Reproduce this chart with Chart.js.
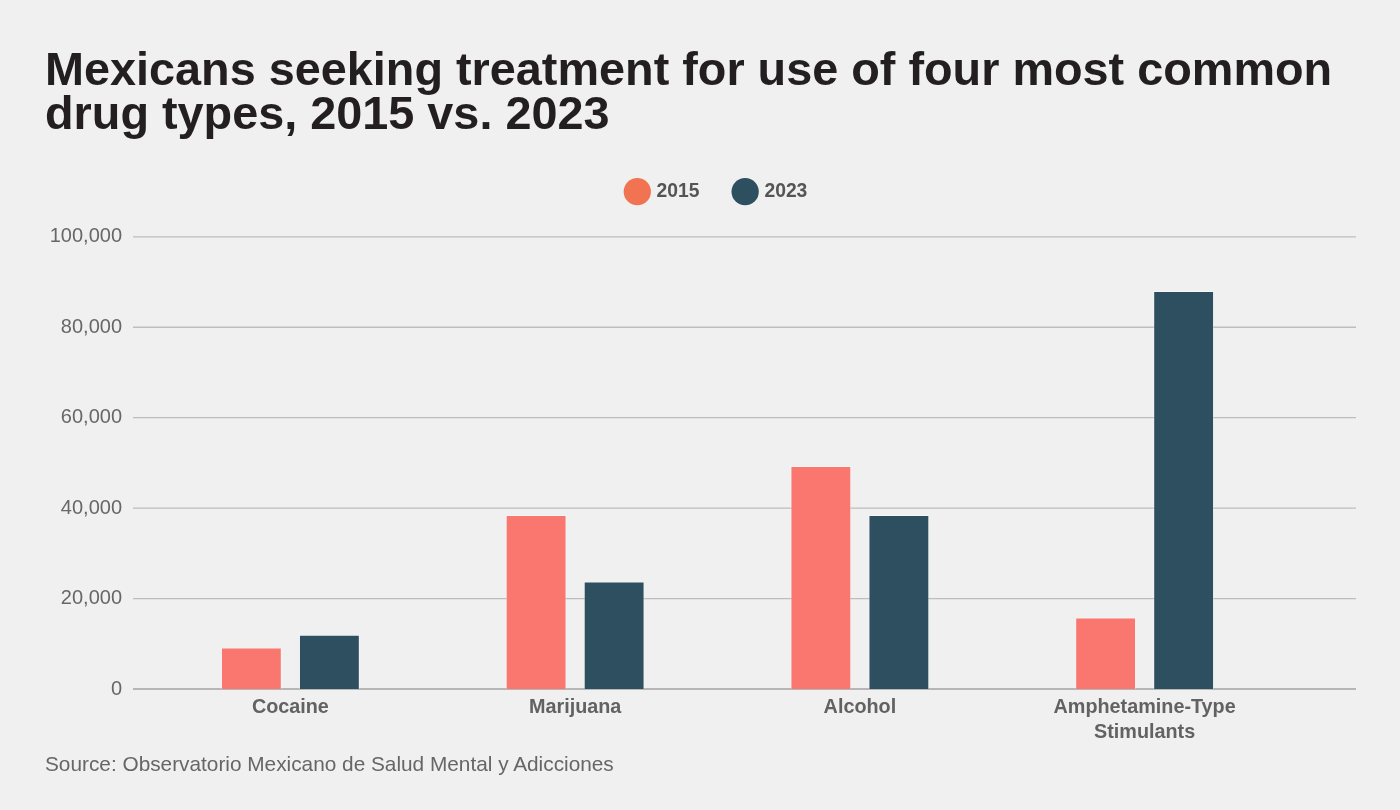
<!DOCTYPE html>
<html>
<head>
<meta charset="utf-8">
<script src="https://cdn.jsdelivr.net/npm/chart.js@4/dist/chart.umd.min.js"></script>
<style>
  html, body { margin: 0; padding: 0; background: #f0f0f0; width: 1400px; height: 810px; overflow: hidden; }
  #title { position: absolute; left: 45px; top: 47px; margin: 0; font-family: "Liberation Sans", Arial, sans-serif; font-weight: bold; font-size: 46.8px; line-height: 44px; letter-spacing: 0px; color: #231f20; z-index: 2; }
  #source { position: absolute; left: 45px; top: 752px; margin: 0; font-family: "Liberation Sans", Arial, sans-serif; font-size: 20.8px; line-height: 24px; color: #666; z-index: 2; }
  #wrap { position: absolute; left: 0; top: 0; width: 1400px; height: 810px; z-index: 1; }
</style>
</head>
<body>
<h1 id="title">Mexicans seeking treatment for use of four most common<br>drug types, 2015 vs. 2023</h1>
<div id="wrap"><canvas id="c" width="1400" height="810"></canvas></div>
<p id="source">Source: Observatorio Mexicano de Salud Mental y Adicciones</p>
<script>
// ---- data ----
const categories = ['Cocaine', 'Marijuana', 'Alcohol', ['Amphetamine-Type', 'Stimulants']];
const seriesNames = ['2015', '2023'];
const values2015 = [9200, 38500, 49300, 15800];
const values2023 = [12000, 23800, 38500, 88000];
const yTicks = [0, 20000, 40000, 60000, 80000, 100000];

// ---- styles ----
const barColors = ['#f9776e', '#2d4f5f'];
const legendColors = ['#f27352', '#2d4f5f'];
const FONT = '"Liberation Sans", Arial, sans-serif';

const gridPlugin = {
  id: 'extGrid',
  beforeDatasetsDraw(chart) {
    const ys = chart.scales.y;
    const area = chart.chartArea;
    const ctx = chart.ctx;
    ctx.save();
    ys.ticks.forEach(t => {
      const y = ys.getPixelForValue(t.value);
      ctx.beginPath();
      ctx.lineWidth = 1.3;
      ctx.strokeStyle = t.value === 0 ? '#a3a3a3' : '#bdbdbd';
      ctx.moveTo(area.left - 15, y);
      ctx.lineTo(area.right + 69, y);
      ctx.stroke();
    });
    ctx.restore();
  }
};

const legendGap = {
  id: 'legendGap',
  afterInit(chart) {
    const lg = chart.legend;
    if (!lg) return;
    const fit = lg.fit;
    lg.fit = function () { fit.call(this); this.height += 25.5; };
  }
};

new Chart(document.getElementById('c'), {
  type: 'bar',
  data: {
    labels: categories,
    datasets: [
      { label: seriesNames[0], data: values2015, backgroundColor: barColors[0], borderColor: 'rgba(255,255,255,0.35)', borderWidth: 1 },
      { label: seriesNames[1], data: values2023, backgroundColor: barColors[1], borderColor: 'rgba(255,255,255,0.35)', borderWidth: 1 }
    ]
  },
  options: {
    responsive: false,
    animation: false,
    devicePixelRatio: 1,
    layout: { padding: { left: 0, right: 113, top: 146, bottom: 66 } },
    datasets: { bar: { categoryPercentage: 0.548, barPercentage: 0.78 } },
    plugins: {
      legend: {
        position: 'top',
        fullSize: false,
        labels: {
          usePointStyle: true,
          pointStyle: 'circle',
          padding: 36,
          color: '#555',
          font: { family: FONT, size: 19.3, weight: 'bold' },
          generateLabels(chart) {
            return chart.data.datasets.map((ds, i) => ({
              text: ds.label,
              fillStyle: legendColors[i],
              strokeStyle: legendColors[i],
              lineWidth: 0,
              pointStyle: 'circle',
              hidden: false,
              datasetIndex: i,
              fontColor: '#555'
            }));
          }
        }
      },
      tooltip: { enabled: false }
    },
    scales: {
      x: {
        grid: { display: false, drawTicks: false },
        border: { display: false },
        ticks: { color: '#626262', padding: 6.5, font: { family: FONT, size: 19.8, weight: 'bold', lineHeight: 1.25 }, maxRotation: 0 },
        afterFit(s) { s.height = 55; }
      },
      y: {
        min: 0, max: 100000,
        grid: { display: false, drawTicks: false },
        border: { display: false },
        afterBuildTicks(s) { s.ticks = yTicks.map(v => ({ value: v })); },
        ticks: {
          color: '#676767', padding: 26,
          font: { family: FONT, size: 20 },
          callback: v => v.toLocaleString('en-US')
        },
        afterFit(s) { s.width = 148; }
      }
    }
  },
  plugins: [gridPlugin, legendGap]
});
</script>
</body>
</html>
